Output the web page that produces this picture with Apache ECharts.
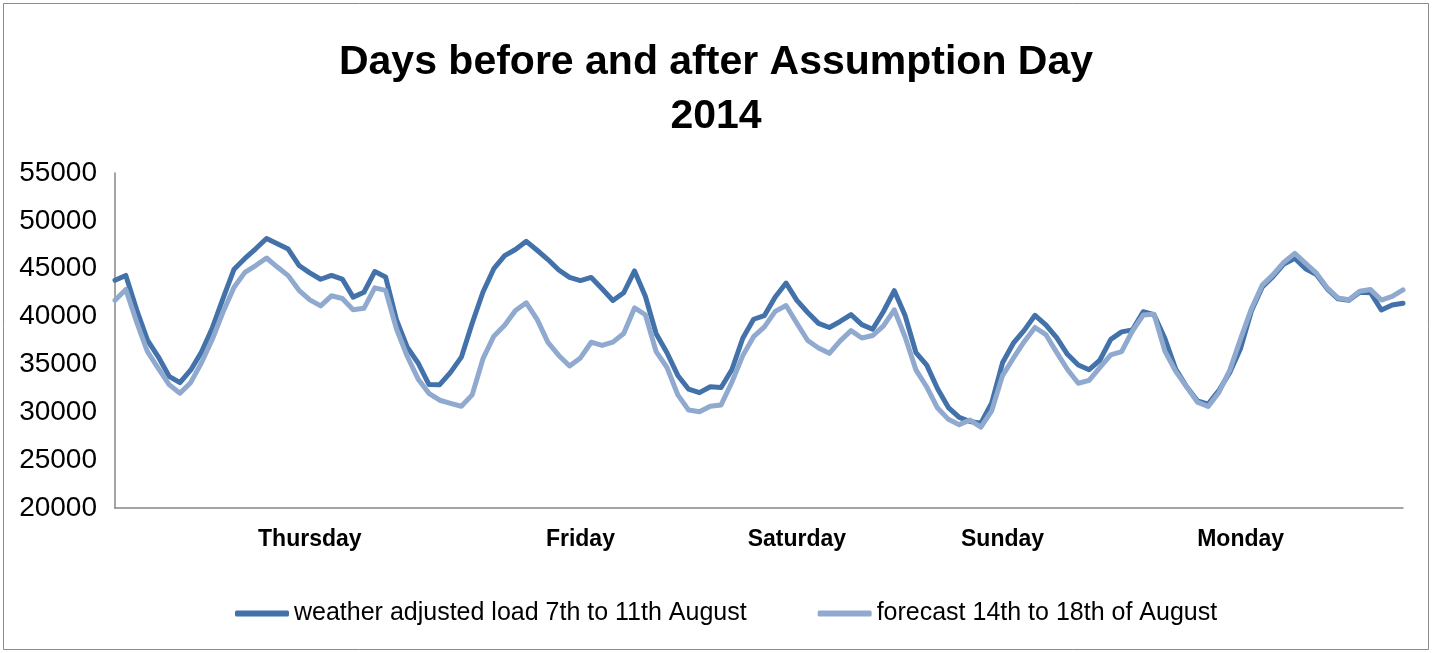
<!DOCTYPE html>
<html>
<head>
<meta charset="utf-8">
<title>Assumption Day 2014</title>
<script src="https://cdn.jsdelivr.net/npm/echarts@6/dist/echarts.min.js"></script>
<style>
html,body{margin:0;padding:0;background:#fff;}
#chart{width:1432px;height:653px;}
</style>
</head>
<body>
<div id="chart"></div>
<script>
// hourly values, Thursday 00:00 .. Monday 23:00
var loadAdjusted = [
	43800,44300,40700,37550,35800,33760,33100,34420,36310,38840,
	41950,44950,46070,47080,48160,47600,47050,45340,44560,43900,
	44300,43920,42030,42540,44700,44140,39680,36800,35150,32910,
	32880,34170,35760,39300,42570,45000,46360,47010,47860,46930,
	45960,44860,44090,43760,44090,42900,41680,42490,44770,42130,
	38210,36220,33850,32410,32050,32670,32590,34470,37740,39720,
	40100,42050,43500,41690,40430,39290,38860,39490,40200,39160,
	38680,40530,42700,40100,36240,34930,32450,30490,29460,29040,
	28860,30970,35170,37220,38560,40130,39140,37790,36060,34940,
	34450,35460,37620,38400,38610,40500,40200,37700,34510,32690,
	31200,30850,32300,34170,36700,40600,43100,44200,45500,46100,
	45000,44400,42900,41850,41700,42550,42500,40690,41210,41400
];
var forecast = [
	41700,42830,39430,36330,34590,32890,31990,33120,35200,37650,
	40530,43070,44620,45330,46120,45170,44280,42740,41740,41120,
	42170,41890,40710,40860,43000,42730,38730,35850,33490,31980,
	31260,30940,30630,31820,35600,37950,39090,40640,41440,39710,
	37300,35940,34840,35680,37320,36990,37330,38230,40900,40190,
	36330,34680,31820,30230,30060,30630,30770,33160,35920,37900,
	38930,40540,41150,39300,37500,36720,36160,37460,38530,37760,
	38020,39020,40700,37870,34430,32640,30440,29260,28710,29190,
	28460,30150,33830,35650,37380,38860,38120,36260,34470,33030,
	33330,34700,36000,36330,38490,40160,40230,36390,34270,32680,
	31060,30600,32100,34400,37700,40820,43290,44380,45680,46600,
	45570,44540,43000,41940,41750,42650,42820,41730,42100,42780
];
var dayNames = ['Thursday','Friday','Saturday','Sunday','Monday'];
var dayIndex = [18,43,63,82,104];
var seriesNames = ['weather adjusted load 7th to 11th August','forecast 14th to 18th of August'];

function loadChart(){
	var hours=[];
	for(var i=0;i<loadAdjusted.length;i++){
		hours.push('h'+i);
	}
	var myChart = echarts.init(document.getElementById('chart'));
	var font='Liberation Sans, Arial, sans-serif';
	var option = {
		animation:false,
		title:{
			text:'Days before and after Assumption Day\n2014',
			left:'center',
			top:31,
			textStyle:{fontFamily:font,fontSize:41,fontWeight:'bold',color:'#000',lineHeight:54}
		},
		graphic:[{
			type:'rect',
			shape:{x:3.5,y:3.5,width:1425,height:646},
			style:{fill:'none',stroke:'#8c8c8c',lineWidth:1}
		}],
		legend:{
			left:230,
			top:596,
			itemWidth:54,
			itemHeight:6,
			itemGap:71,
			icon:'roundRect',
			textStyle:{fontFamily:font,fontSize:25,color:'#000'},
			data:seriesNames
		},
		grid:{left:115,right:29,top:173,bottom:145},
		xAxis:{
			type:'category',
			boundaryGap:false,
			data:hours,
			axisLine:{lineStyle:{color:'#868686',width:1.5}},
			axisTick:{show:false},
			axisLabel:{
				interval:function(idx){ return dayIndex.indexOf(idx)>=0; },
				formatter:function(v,idx){
					var k=dayIndex.indexOf(idx);
					return k>=0?dayNames[k]:'';
				},
				margin:20,
				fontFamily:font,fontSize:23,fontWeight:'bold',color:'#000'
			}
		},
		yAxis:{
			type:'value',
			min:20000,
			max:55000,
			interval:5000,
			splitLine:{show:false},
			axisLine:{show:true,lineStyle:{color:'#868686',width:1.5}},
			axisTick:{show:false},
			axisLabel:{
				margin:18,
				formatter:function(v){ return String(v); },
				fontFamily:font,fontSize:28,color:'#000'
			}
		},
		series:[
			{
				name:seriesNames[0],
				type:'line',
				data:loadAdjusted,
				showSymbol:false,
				symbol:'none',
				itemStyle:{color:'#4371a9'},
				lineStyle:{color:'#4371a9',width:5,cap:'round',join:'round'}
			},
			{
				name:seriesNames[1],
				type:'line',
				data:forecast,
				showSymbol:false,
				symbol:'none',
				itemStyle:{color:'#8fa9cf'},
				lineStyle:{color:'#8fa9cf',width:5,cap:'round',join:'round'}
			}
		]
	};
	myChart.setOption(option);
}
loadChart();
</script>
</body>
</html>
